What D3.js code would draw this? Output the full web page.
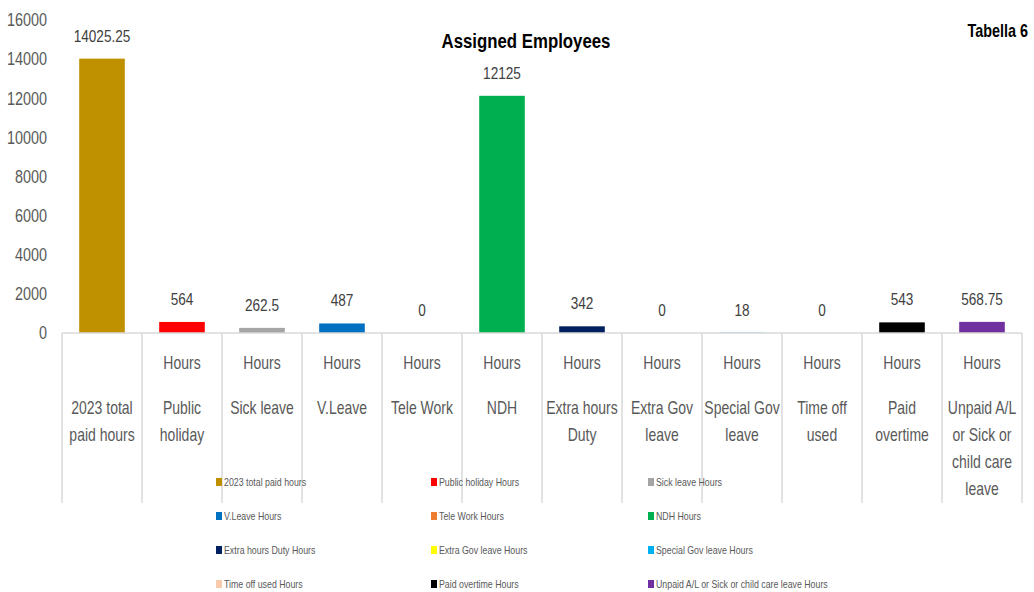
<!DOCTYPE html>
<html>
<head>
<meta charset="utf-8">
<script src="https://cdn.jsdelivr.net/npm/d3@7"></script>
<style>
  html, body { margin: 0; padding: 0; background: #fff; }
  svg { display: block; }
  text { font-family: "Liberation Sans", Arial, sans-serif; }
</style>
</head>
<body>
<svg id="chart" width="1034" height="592"></svg>
<script>
// ---- data ----
const categories = ["2023 total paid hours", "Public holiday", "Sick leave", "V.Leave", "Tele Work", "NDH",
  "Extra hours Duty", "Extra Gov leave", "Special Gov leave", "Time off used", "Paid overtime",
  "Unpaid A/L or Sick or child care leave"];
const subLevel = ["", "Hours", "Hours", "Hours", "Hours", "Hours", "Hours", "Hours", "Hours", "Hours", "Hours", "Hours"];
const categoryLines = [
  ["2023 total", "paid hours"], ["Public", "holiday"], ["Sick leave"], ["V.Leave"], ["Tele Work"], ["NDH"],
  ["Extra hours", "Duty"], ["Extra Gov", "leave"], ["Special Gov", "leave"], ["Time off", "used"],
  ["Paid", "overtime"], ["Unpaid A/L", "or Sick or", "child care", "leave"]
];
const values = [14025.25, 564, 262.5, 487, 0, 12125, 342, 0, 18, 0, 543, 568.75];
const valueLabels = ["14025.25", "564", "262.5", "487", "0", "12125", "342", "0", "18", "0", "543", "568.75"];
const colors = ["#BF9000", "#FF0000", "#A5A5A5", "#0070C0", "#ED7D31", "#00B050", "#002060", "#FFFF00",
  "#00B0F0", "#F8CBAD", "#000000", "#7030A0"];
const legendNames = ["2023 total paid hours", "Public holiday Hours", "Sick leave Hours", "V.Leave Hours",
  "Tele Work Hours", "NDH Hours", "Extra hours Duty Hours", "Extra Gov leave Hours", "Special Gov leave Hours",
  "Time off used Hours", "Paid overtime Hours", "Unpaid A/L or Sick or child care leave Hours"];
const yTicks = [0, 2000, 4000, 6000, 8000, 10000, 12000, 14000, 16000];
const titleText = "Assigned Employees";
const cornerText = "Tabella 6";

// ---- layout ----
const SX = 0.8; // horizontal condensing of text to mimic the narrow font
const svg = d3.select("#chart");
const plot = { left: 62, right: 1022, top: 20, bottom: 333, catBottom: 503 };

const x = d3.scaleBand().domain(categories).range([plot.left, plot.right]).padding(0);
const y = d3.scaleLinear().domain([0, 16000]).range([plot.bottom, plot.top]);
const barW = x.bandwidth() * 0.57;

function addText(parent, tx, ty, str, opts) {
  const t = parent.append("text")
    .attr("transform", `translate(${tx},${ty}) scale(${SX},1)`)
    .attr("text-anchor", opts.anchor || "middle")
    .attr("font-size", opts.size)
    .attr("fill", opts.fill || "#595959")
    .text(str);
  if (opts.bold) t.attr("font-weight", "bold");
  return t;
}

// title
addText(svg, 526, 48, titleText, { size: 21, bold: true, fill: "#000" });
addText(svg, 1028, 37, cornerText, { size: 18, bold: true, fill: "#000", anchor: "end" });

// y axis
const yAxis = svg.append("g").attr("transform", `translate(${plot.left},0)`)
  .call(d3.axisLeft(y).tickValues(yTicks).tickSize(0).tickPadding(15 / SX).tickFormat(d3.format("d")));
yAxis.select(".domain").remove();
yAxis.selectAll("text").attr("font-size", 18).attr("fill", "#595959")
  .attr("transform", `scale(${SX},1)`)
  .style("font-family", '"Liberation Sans", Arial, sans-serif');

// bars
svg.append("g").selectAll("rect").data(categories).join("rect")
  .attr("x", (d) => x(d) + (x.bandwidth() - barW) / 2)
  .attr("y", (d, i) => y(values[i]))
  .attr("width", barW)
  .attr("height", (d, i) => y(0) - y(values[i]))
  .attr("fill", (d, i) => colors[i]);

// value labels
const vl = svg.append("g");
categories.forEach((c, i) => {
  addText(vl, x(c) + x.bandwidth() / 2, y(values[i]) - 17, valueLabels[i], { size: 17, fill: "#404040" });
});

// category axis line + dividers
svg.append("line").attr("x1", plot.left).attr("x2", plot.right).attr("y1", plot.bottom).attr("y2", plot.bottom)
  .attr("stroke", "#D9D9D9").attr("stroke-width", 1.5);
const bounds = categories.map((d) => x(d)).concat([plot.right]);
svg.append("g").selectAll("line").data(bounds).join("line")
  .attr("x1", (d) => d).attr("x2", (d) => d).attr("y1", plot.bottom).attr("y2", plot.catBottom)
  .attr("stroke", "#D9D9D9").attr("stroke-width", 1.5);

// category labels
const cl = svg.append("g");
categories.forEach((c, i) => {
  const cx = x(c) + x.bandwidth() / 2;
  if (subLevel[i]) addText(cl, cx, 369, subLevel[i], { size: 17.5 });
  categoryLines[i].forEach((ln, k) => addText(cl, cx, 414 + k * 27, ln, { size: 17.5 }));
});

// legend
const legCols = [216, 431, 648];
const legRows = [482, 516, 550, 584];
const leg = svg.append("g");
legendNames.forEach((name, i) => {
  const lx = legCols[i % 3], ly = legRows[Math.floor(i / 3)];
  leg.append("rect").attr("x", lx).attr("y", ly - 4).attr("width", 6).attr("height", 8).attr("fill", colors[i]);
  addText(leg, lx + 8, ly + 4, name, { size: 11, anchor: "start" });
});
</script>
</body>
</html>
